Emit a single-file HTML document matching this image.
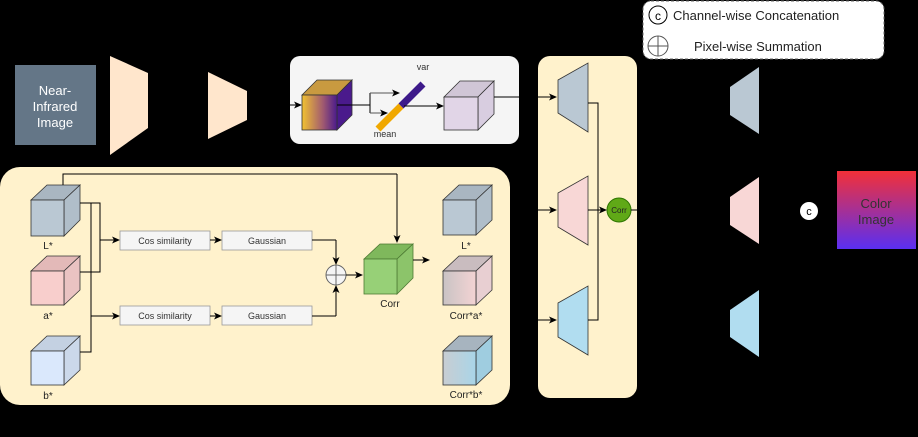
<!DOCTYPE html>
<html><head><meta charset="utf-8"><style>html,body{margin:0;padding:0;background:#000}svg{display:block}text{font-family:"Liberation Sans",sans-serif}</style></head><body>
<svg width="918" height="437" viewBox="0 0 918 437" xmlns="http://www.w3.org/2000/svg">
<defs>
<marker id="a" markerWidth="8" markerHeight="8" refX="7" refY="4" orient="auto" markerUnits="userSpaceOnUse"><path d="M0,0.5 L8,4 L0,7.5 L2,4z" fill="#000"/></marker>
<linearGradient id="g1" x1="0" x2="1" y1="0" y2="0"><stop offset="0" stop-color="#f2c232"/><stop offset="0.6" stop-color="#a05a70"/><stop offset="1" stop-color="#4a1a8c"/></linearGradient>
<linearGradient id="g2" x1="0" x2="0" y1="0" y2="1"><stop offset="0" stop-color="#f23038"/><stop offset="1" stop-color="#5a2ff2"/></linearGradient>
<linearGradient id="ga" x1="0" x2="1"><stop offset="0" stop-color="#c9c3c4"/><stop offset="1" stop-color="#f3d3d3"/></linearGradient>
<linearGradient id="gb" x1="0" x2="1"><stop offset="0" stop-color="#c8cdd2"/><stop offset="1" stop-color="#a9d5e8"/></linearGradient>
</defs>
<rect width="918" height="437" fill="#000"/>
<!-- NIR -->
<rect x="15" y="65" width="81" height="80" fill="#647687"/>
<text fill="#fff" font-size="13" text-anchor="middle"><tspan x="55" y="95">Near-</tspan><tspan x="55" y="111">Infrared</tspan><tspan x="55" y="127">Image</tspan></text>
<polygon points="110,56 148,73 148,128 110,155" fill="#ffe6cc"/>
<polygon points="208,72 247,91 247,120 208,139" fill="#ffe6cc"/>
<!-- gray box -->
<rect x="290" y="56" width="229" height="88" rx="10" fill="#f5f5f5"/>
<line x1="288" y1="105" x2="301" y2="105" stroke="#000" marker-end="url(#a)"/>
<polygon points="302,95 317,80 352,80 337,95" fill="#c99a40" stroke="#333" stroke-width="0.8"/>
<polygon points="337,95 352,80 352,115 337,130" fill="#4a1a8c" stroke="#333" stroke-width="0.8"/>
<rect x="302" y="95" width="35" height="35" fill="url(#g1)" stroke="#333" stroke-width="0.8"/>
<path d="M337,105 H370 M370,93 V113" stroke="#000" fill="none"/>
<line x1="370" y1="93" x2="399" y2="93" stroke="#555" marker-end="url(#a)"/>
<line x1="370" y1="113" x2="387" y2="113" stroke="#555" marker-end="url(#a)"/>
<line x1="378" y1="129" x2="401" y2="106" stroke="#f0a800" stroke-width="7"/>
<line x1="401" y1="106" x2="423" y2="84" stroke="#3d1a8a" stroke-width="7"/>
<line x1="404" y1="106" x2="443" y2="106" stroke="#000" marker-end="url(#a)"/>
<text x="423" y="70" font-size="9" fill="#333" text-anchor="middle">var</text>
<text x="385" y="137" font-size="9" fill="#333" text-anchor="middle">mean</text>
<polygon points="444,97 460,81 494,81 478,97" fill="#d0c6d6" stroke="#333" stroke-width="0.8"/>
<polygon points="478,97 494,81 494,114 478,130" fill="#d8cde0" stroke="#333" stroke-width="0.8"/>
<rect x="444" y="97" width="34" height="33" fill="#e1d5e7" stroke="#333" stroke-width="0.8"/>
<line x1="494" y1="97" x2="556" y2="97" stroke="#000" marker-end="url(#a)"/>
<!-- panel 1 -->
<rect x="0" y="167" width="510" height="238" rx="20" fill="#fff2cc"/>
<g stroke="#333" stroke-width="0.8">
<polygon points="31,200 47,185 80,185 64,200" fill="#a9b6c1"/><polygon points="64,200 80,185 80,220 64,236" fill="#b0bec9"/><rect x="31" y="200" width="33" height="36" fill="#bac8d3"/>
<polygon points="31,271 47,256 80,256 64,271" fill="#e3b9b8"/><polygon points="64,271 80,256 80,290 64,305" fill="#eac3c2"/><rect x="31" y="271" width="33" height="34" fill="#f8cecc"/>
<polygon points="31,351 47,336 80,336 64,351" fill="#c4d1e2"/><polygon points="64,351 80,336 80,370 64,385" fill="#cbd8ea"/><rect x="31" y="351" width="33" height="34" fill="#dae8fc"/>
</g>
<g font-size="10" fill="#222" text-anchor="middle"><text x="48" y="249">L*</text><text x="48" y="319">a*</text><text x="48" y="399">b*</text></g>
<path d="M80,203 H100 V272 H80 M91,203 V352 H80 M63,185 V174 H397" stroke="#000" fill="none"/>
<line x1="397" y1="174" x2="397" y2="242" stroke="#000" marker-end="url(#a)"/>
<line x1="100" y1="240" x2="119" y2="240" stroke="#000" marker-end="url(#a)"/>
<line x1="91" y1="316" x2="119" y2="316" stroke="#000" marker-end="url(#a)"/>
<g fill="#f5f5f5" stroke="#999" stroke-width="0.8">
<rect x="120" y="231" width="90" height="19"/><rect x="222" y="231" width="90" height="19"/>
<rect x="120" y="306" width="90" height="19"/><rect x="222" y="306" width="90" height="19"/></g>
<g font-size="9" fill="#333" text-anchor="middle"><text x="165" y="244">Cos similarity</text><text x="267" y="244">Gaussian</text><text x="165" y="319">Cos similarity</text><text x="267" y="319">Gaussian</text></g>
<line x1="210" y1="240" x2="221" y2="240" stroke="#000" marker-end="url(#a)"/>
<line x1="210" y1="316" x2="221" y2="316" stroke="#000" marker-end="url(#a)"/>
<path d="M312,240 H336" stroke="#000" fill="none"/><line x1="336" y1="240" x2="336" y2="264" stroke="#000" marker-end="url(#a)"/>
<path d="M312,316 H336" stroke="#000" fill="none"/><line x1="336" y1="316" x2="336" y2="286" stroke="#000" marker-end="url(#a)"/>
<circle cx="336" cy="275" r="10" fill="#f5f5f5" stroke="#666"/><path d="M326,275 H346 M336,265 V285" stroke="#666"/>
<line x1="346" y1="275" x2="362" y2="275" stroke="#000" marker-end="url(#a)"/>
<g stroke="#4d7a33" stroke-width="0.8"><polygon points="364,259 380,244 413,244 397,259" fill="#7fb85c"/><polygon points="397,259 413,244 413,278 397,294" fill="#8cc46a"/><rect x="364" y="259" width="33" height="35" fill="#97d077"/></g>
<text x="390" y="307" font-size="10" fill="#222" text-anchor="middle">Corr</text>
<line x1="413" y1="260" x2="429" y2="260" stroke="#000" marker-end="url(#a)"/>
<g stroke="#333" stroke-width="0.8">
<polygon points="443,200 459,185 492,185 476,200" fill="#a9b6c1"/><polygon points="476,200 492,185 492,220 476,235" fill="#b0bec9"/><rect x="443" y="200" width="33" height="35" fill="#bac8d3"/>
<polygon points="443,271 459,256 492,256 476,271" fill="#c9bcbf"/><polygon points="476,271 492,256 492,290 476,305" fill="#e8cfd2"/><rect x="443" y="271" width="33" height="34" fill="url(#ga)"/>
<polygon points="443,351 459,336 492,336 476,351" fill="#a7b4bf"/><polygon points="476,351 492,336 492,370 476,385" fill="#9fcde0"/><rect x="443" y="351" width="33" height="34" fill="url(#gb)"/>
</g>
<g font-size="10" fill="#222" text-anchor="middle"><text x="466" y="249">L*</text><text x="466" y="319">Corr*a*</text><text x="466" y="398">Corr*b*</text></g>
<line x1="510" y1="210" x2="556" y2="210" stroke="#000" marker-end="url(#a)"/>
<line x1="510" y1="320" x2="556" y2="320" stroke="#000" marker-end="url(#a)"/>
<!-- panel 2 -->
<rect x="538" y="56" width="99" height="342" rx="12" fill="#fff2cc"/>
<line x1="520" y1="97" x2="556" y2="97" stroke="#000" marker-end="url(#a)"/>
<line x1="538" y1="210" x2="556" y2="210" stroke="#000" marker-end="url(#a)"/>
<line x1="538" y1="320" x2="556" y2="320" stroke="#000" marker-end="url(#a)"/>
<g stroke="#333" stroke-width="0.8">
<polygon points="558,80 588,63 588,132 558,113" fill="#bac8d3"/>
<polygon points="558,193 588,176 588,245 558,227" fill="#f8d7d6"/>
<polygon points="558,303 588,286 588,355 558,337" fill="#b1ddf0"/></g>
<path d="M588,103 H598 V320 H588" stroke="#000" fill="none"/>
<line x1="588" y1="210" x2="606" y2="210" stroke="#000" marker-end="url(#a)"/>
<circle cx="619" cy="210" r="12" fill="#60a917" stroke="#2d7600"/>
<text x="619" y="213" font-size="8" fill="#222" text-anchor="middle">Corr</text>
<line x1="631" y1="210" x2="637" y2="210" stroke="#000"/>
<!-- right -->
<polygon points="730,87 759,67 759,134 730,115" fill="#bac8d3"/>
<polygon points="730,197 759,177 759,244 730,225" fill="#f8d7d6"/>
<polygon points="730,310 759,290 759,357 730,337" fill="#b1ddf0"/>
<circle cx="809" cy="211" r="9" fill="#fff"/>
<text x="809" y="215" font-size="11" fill="#000" text-anchor="middle">c</text>
<rect x="837" y="171" width="79" height="78" fill="url(#g2)"/>
<text fill="#333" font-size="13" text-anchor="middle"><tspan x="876" y="208">Color</tspan><tspan x="876" y="224">Image</tspan></text>
<!-- legend -->
<rect x="643" y="1" width="241" height="58" rx="8" fill="#fff" stroke="#666" stroke-dasharray="3,2"/>
<circle cx="658" cy="15" r="9" fill="#fff" stroke="#000"/><text x="658" y="20" font-size="12" text-anchor="middle">c</text>
<text x="673" y="20" font-size="13" fill="#222">Channel-wise Concatenation</text>
<circle cx="658" cy="46" r="10" fill="#fff" stroke="#555"/><path d="M648,46 H668 M658,36 V56" stroke="#555"/>
<text x="694" y="51" font-size="13" fill="#222">Pixel-wise Summation</text>
</svg>
</body></html>
